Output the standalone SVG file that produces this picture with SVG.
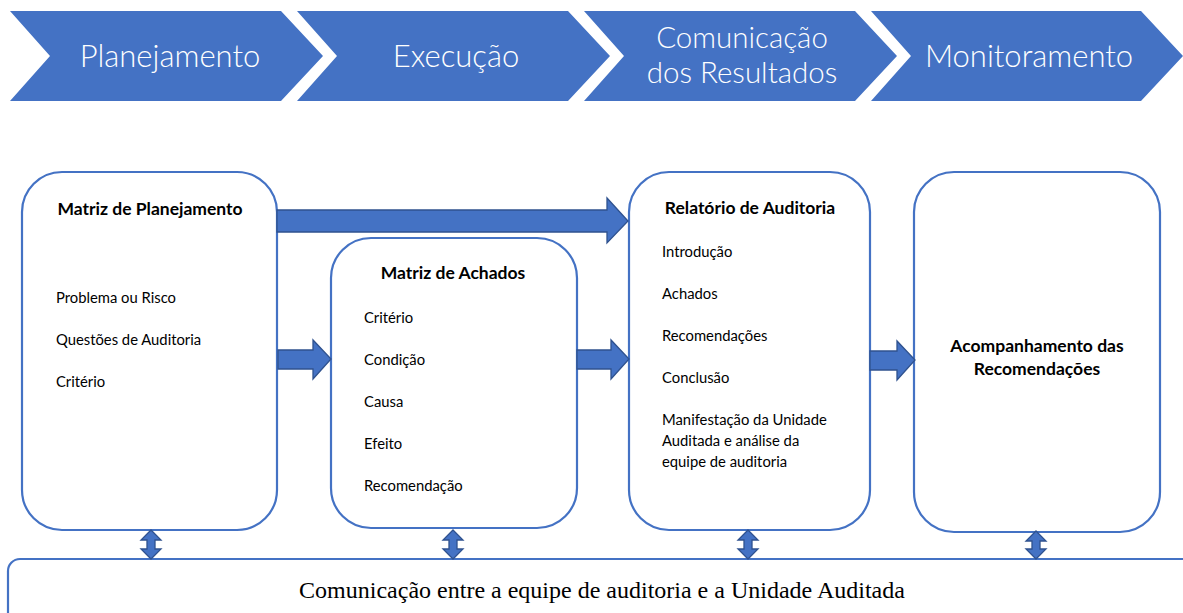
<svg xmlns="http://www.w3.org/2000/svg" width="1183" height="613" viewBox="0 0 1183 613">
<defs>
<style>
.chev{fill:#4472C4}
.ct{fill:#fff;font-family:Lato,"Open Sans",sans-serif;font-weight:300;font-size:31px;text-anchor:middle}
.ct2{font-size:29.5px}
.box{fill:#fff;stroke:#4472C4;stroke-width:2.2}
.ttl{font-family:Lato,"Open Sans",sans-serif;font-weight:bold;font-size:17.5px;text-anchor:middle;fill:#000}
.it{font-family:Lato,"Open Sans",sans-serif;font-size:14.8px;fill:#000}
.arr{fill:#4472C4;stroke:#2F528F;stroke-width:1.3}
.bt{font-family:"Liberation Serif","Times New Roman",serif;font-size:24px;text-anchor:middle;fill:#000}
</style>
</defs>
<rect width="1183" height="613" fill="#fff"/>
<g id="chevrons">
<g id="ch1"><polygon class="chev" points="10,11 281,11 323,56 281,101 10,101 50,56"/><text class="ct" x="170" y="67">Planejamento</text></g>
<g id="ch2"><polygon class="chev" points="297,11 568,11 610,56 568,101 297,101 337,56"/><text class="ct" x="456" y="67">Execução</text></g>
<g id="ch3"><polygon class="chev" points="584,11 855,11 897,56 855,101 584,101 624,56"/><text class="ct ct2" x="742" y="48">Comunicação</text><text class="ct ct2" x="742" y="83">dos Resultados</text></g>
<g id="ch4"><polygon class="chev" points="871,11 1141,11 1183,56 1141,101 871,101 911,56"/><text class="ct" x="1029" y="67">Monitoramento</text></g>
</g>
<g id="bottom">
<rect class="box" x="8" y="559" width="1200" height="80" rx="12"/>
<text class="bt" x="602" y="598">Comunicação entre a equipe de auditoria e a Unidade Auditada</text>
</g>
<g id="box1">
<rect class="box" x="22" y="172" width="255" height="358" rx="40"/>
<text class="ttl" x="150" y="215">Matriz de Planejamento</text>
<text class="it" x="56" y="303">Problema ou Risco</text>
<text class="it" x="56" y="345">Questões de Auditoria</text>
<text class="it" x="56" y="387">Critério</text>
</g>
<g id="box2">
<rect class="box" x="331" y="238" width="246" height="290" rx="40"/>
<text class="ttl" x="453" y="279">Matriz de Achados</text>
<text class="it" x="364" y="323">Critério</text>
<text class="it" x="364" y="365">Condição</text>
<text class="it" x="364" y="407">Causa</text>
<text class="it" x="364" y="449">Efeito</text>
<text class="it" x="364" y="491">Recomendação</text>
</g>
<g id="box3">
<rect class="box" x="629" y="172" width="241" height="358" rx="40"/>
<text class="ttl" x="750" y="214">Relatório de Auditoria</text>
<text class="it" x="662" y="257">Introdução</text>
<text class="it" x="662" y="299">Achados</text>
<text class="it" x="662" y="341">Recomendações</text>
<text class="it" x="662" y="383">Conclusão</text>
<text class="it" x="662" y="425">Manifestação da Unidade</text>
<text class="it" x="662" y="446">Auditada e análise da</text>
<text class="it" x="662" y="467">equipe de auditoria</text>
</g>
<g id="box4">
<rect class="box" x="914" y="172" width="246" height="360" rx="40"/>
<text class="ttl" x="1037" y="352">Acompanhamento das</text>
<text class="ttl" x="1037" y="375">Recomendações</text>
</g>
<g id="connectors">
<polygon class="arr" points="277,210 607,210 607,198 628,221 607,243 607,232 277,232"/>
<polygon class="arr" points="278,350 313,350 313,340 331,359 313,379 313,369 278,369"/>
<polygon class="arr" points="577,350 611,350 611,340 629,359 611,379 611,369 577,369"/>
<polygon class="arr" points="870,351 897,351 897,341 915,360 897,380 897,370 870,370"/>
<polygon class="arr" points="151,530 161,540 155,540 155,549 161,549 151,559 141,549 147,549 147,540 141,540"/>
<polygon class="arr" points="453,530 463,540 457,540 457,549 463,549 453,559 443,549 449,549 449,540 443,540"/>
<polygon class="arr" points="748,530 758,540 752,540 752,549 758,549 748,559 738,549 744,549 744,540 738,540"/>
<polygon class="arr" points="1036,531 1046,541 1040,541 1040,549 1046,549 1036,559 1026,549 1032,549 1032,541 1026,541"/>
</g>
</svg>
